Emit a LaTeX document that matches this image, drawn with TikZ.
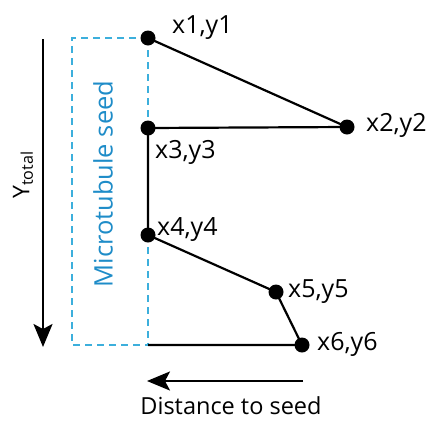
\documentclass[tikz,border=0pt]{standalone}
\usepackage{fontspec}
\setmainfont{Open Sans}
\usetikzlibrary{arrows.meta}
\definecolor{seedblue}{RGB}{30,140,200}
\definecolor{dashblue}{RGB}{60,175,220}
\begin{document}
\begin{tikzpicture}[x=1pt,y=-1pt,
  pt/.style={circle,fill=black,inner sep=0pt,minimum size=15pt},
  lbl/.style={font=\fontsize{25}{28}\selectfont,inner sep=0pt,anchor=base west},
  seg/.style={line width=2.2pt},
  dsh/.style={dashblue,line width=2pt,dash pattern=on 7pt off 5pt},
  arr/.style={line width=2.2pt,-{Stealth[length=23pt,width=19pt,inset=5pt]}}]
\useasboundingbox (0,0) rectangle (436,421);
\draw[dsh] (148,38) -- (72,38) -- (72,345) -- (148,345);
\draw[dsh] (148,38) -- (148,128);
\draw[dsh] (148,235) -- (148,345);
\node[pt] (p1) at (148,38) {};
\node[pt] (p2) at (347,127) {};
\node[pt] (p3) at (148,128) {};
\node[pt] (p4) at (148,235) {};
\node[pt] (p5) at (276,292) {};
\node[pt] (p6) at (302,345) {};
\coordinate (b6) at (148,345);
\draw[seg] (p1.center) -- (p2.center) -- (p3.center) -- (p4.center) -- (p5.center) -- (p6.center) -- (b6);
\node[lbl] (l1) at (172,33) {x1,y1};
\node[lbl] (l2) at (366,131) {x2,y2};
\node[lbl] (l3) at (155,158) {x3,y3};
\node[lbl] (l4) at (157,235) {x4,y4};
\node[lbl] (l5) at (288,297) {x5,y5};
\node[lbl] (l6) at (317,350) {x6,y6};
\coordinate (yt) at (43,39);
\coordinate (yb) at (43,347);
\draw[arr] (yt) -- (yb);
\node[font=\fontsize{23}{26}\selectfont,inner sep=0pt,rotate=90] (ylab) at (23,175) {Y\textsubscript{total}};
\node[rotate=90,inner sep=0pt,text=seedblue,font=\fontsize{25.5}{28}\selectfont] (seed) at (103,184) {Microtubule seed};
\coordinate (ds) at (303,381);
\coordinate (de) at (147,381);
\draw[arr] (ds) -- (de);
\node[font=\fontsize{23.5}{26}\selectfont,inner sep=0pt,anchor=base] (dlab) at (231,414) {Distance to seed};
\end{tikzpicture}
\end{document}
